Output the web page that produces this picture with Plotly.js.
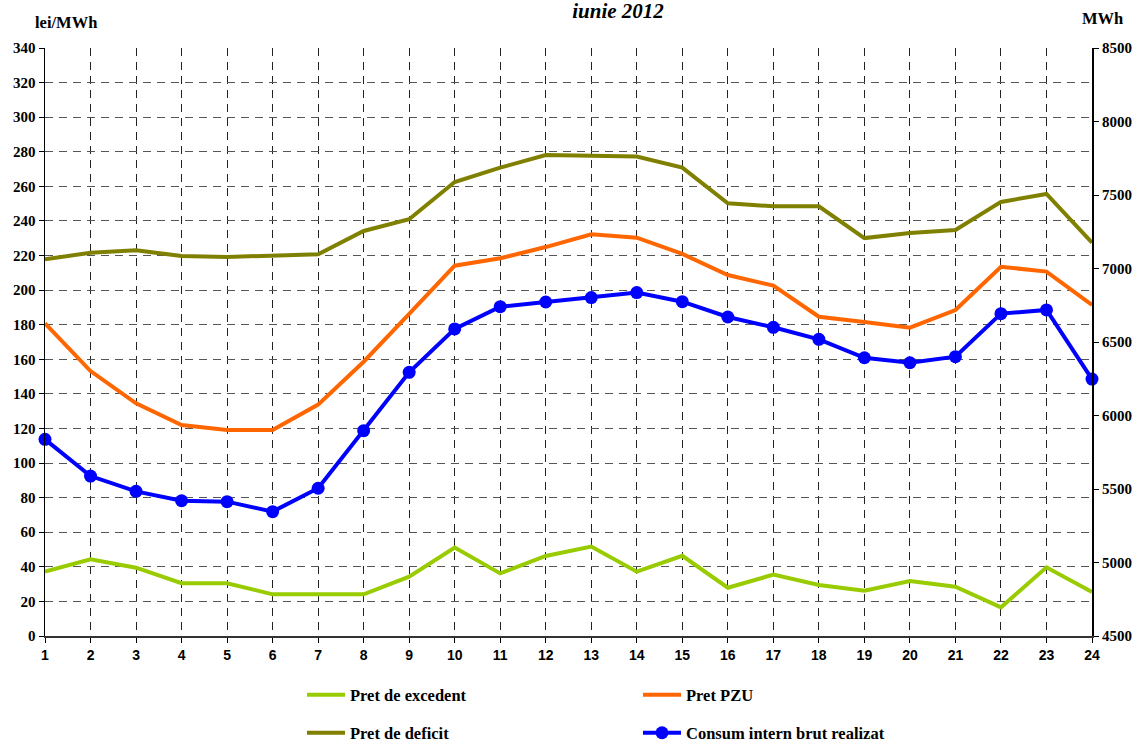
<!DOCTYPE html>
<html>
<head>
<meta charset="utf-8">
<script src="https://cdn.plot.ly/plotly-3.0.1.min.js"></script>
<style>html,body{margin:0;padding:0;background:#fff;}#chart{width:1138px;height:744px;}</style>
</head>
<body>
<div id="chart"></div>
<script>
const hours = [1,2,3,4,5,6,7,8,9,10,11,12,13,14,15,16,17,18,19,20,21,22,23,24];
const pretExcedent = [37.2,44.3,39.5,30.5,30.5,24.1,24.1,24.1,34.3,51.1,36.2,46.3,51.7,37.2,46.4,27.9,35.5,29.5,26.2,31.8,28.5,16.6,39.7,25.4];
const pretPZU = [180.8,153.2,134.5,122,119.1,119.1,133.8,158.6,186.3,214.1,218.4,224.9,232.3,230.3,220.9,208.7,202.6,184.6,181.6,178.3,188.5,213.5,210.7,191.4];
const pretDeficit = [217.8,221.6,223,219.7,219.2,219.9,220.7,234.2,241,262.5,270.8,278.1,277.7,277.2,270.8,250.2,248.5,248.5,230.1,233,234.8,251,255.6,227.4];
const consum = [5838,5588,5484,5420,5414,5346,5505,5897,6294,6589,6740,6772,6802,6836,6774,6670,6600,6518,6393,6359,6400,6693,6718,6248];
const leftTicks = [0,20,40,60,80,100,120,140,160,180,200,220,240,260,280,300,320,340];
const rightTicks = [4500,5000,5500,6000,6500,7000,7500,8000,8500];

const FONT = 'Liberation Serif, Times New Roman, serif';
const SANS = 'Liberation Sans, Arial, sans-serif';

const traces = [
  {x: hours, y: pretExcedent, name: 'Pret de excedent', type: 'scatter', mode: 'lines',
   line: {color: '#99CC00', width: 4}, legend: 'legend', cliponaxis: false},
  {x: hours, y: pretPZU, name: 'Pret PZU', type: 'scatter', mode: 'lines',
   line: {color: '#FF6600', width: 4}, legend: 'legend', cliponaxis: false},
  {x: hours, y: pretDeficit, name: 'Pret de deficit', type: 'scatter', mode: 'lines',
   line: {color: '#808000', width: 4}, legend: 'legend2', cliponaxis: false},
  {x: hours, y: consum, name: 'Consum intern brut realizat', type: 'scatter', mode: 'lines+markers',
   line: {color: '#0000FF', width: 4}, marker: {color: '#0000FF', size: 13},
   yaxis: 'y2', legend: 'legend2', cliponaxis: false}
];

const pw = 1138 - 45 - 46, ph = 744 - 48 - 108;

const legendBase = {
  orientation: 'h', xref: 'container', yref: 'container',
  x: 302/1138, xanchor: 'left', yanchor: 'middle',
  entrywidth: 283, entrywidthmode: 'pixels', itemwidth: 38,
  font: {family: FONT, size: 16.5, color: '#000', weight: 'bold'},
  bgcolor: 'rgba(0,0,0,0)', traceorder: 'normal'
};

const layout = {
  width: 1138, height: 744,
  margin: {l: 45, r: 46, t: 48, b: 108},
  paper_bgcolor: '#fff', plot_bgcolor: '#fff',
  font: {family: FONT, size: 15, color: '#000'},
  title: {text: '<b><i>iunie 2012</i></b>', font: {family: FONT, size: 21, color: '#000'},
          xref: 'container', yref: 'container', x: 618/1138, xanchor: 'center', y: 1 - 3/744, yanchor: 'top'},
  xaxis: {
    range: [1, 24], tickvals: hours, ticktext: hours.map(String),
    showgrid: true, gridcolor: '#222', griddash: '8px,6px', gridwidth: 1,
    ticks: 'outside', ticklen: 5, tickcolor: '#000', tickwidth: 1,
    showline: true, linecolor: '#333', linewidth: 2,
    tickfont: {family: SANS, size: 14, color: '#000', weight: 'bold'},
    zeroline: false, fixedrange: true
  },
  yaxis: {
    range: [0, 340], tickvals: leftTicks, ticktext: leftTicks.map(String),
    showgrid: true, gridcolor: '#555', griddash: '8px,6px', gridwidth: 1,
    ticks: 'outside', ticklen: 5, tickcolor: '#000',
    showline: true, linecolor: '#000', linewidth: 1.5, mirror: false,
    tickfont: {family: FONT, size: 15, color: '#000', weight: 'bold'},
    zeroline: false, fixedrange: true
  },
  yaxis2: {
    range: [4500, 8500], tickvals: rightTicks, ticktext: rightTicks.map(String),
    overlaying: 'y', side: 'right', showgrid: false,
    ticks: 'outside', ticklen: 5, tickcolor: '#000',
    showline: true, linecolor: '#000', linewidth: 2,
    tickfont: {family: FONT, size: 15, color: '#000', weight: 'bold'},
    zeroline: false, fixedrange: true
  },
  showlegend: true,
  legend: Object.assign({}, legendBase, {y: 1 - 695/744}),
  legend2: Object.assign({}, legendBase, {y: 1 - 733/744}),
  annotations: [
    {text: '<b>lei/MWh</b>', xref: 'paper', yref: 'paper', x: (66 - 45) / pw, y: (636 - 23) / ph,
     xanchor: 'center', yanchor: 'middle',
     showarrow: false, font: {family: FONT, size: 16.5, color: '#000'}},
    {text: '<b>MWh</b>', xref: 'paper', yref: 'paper', x: (1102 - 45) / pw, y: (636 - 19) / ph,
     xanchor: 'center', yanchor: 'middle',
     showarrow: false, font: {family: FONT, size: 16.5, color: '#000'}}
  ]
};

Plotly.newPlot('chart', traces, layout, {displayModeBar: false, staticPlot: true});
</script>
</body>
</html>
